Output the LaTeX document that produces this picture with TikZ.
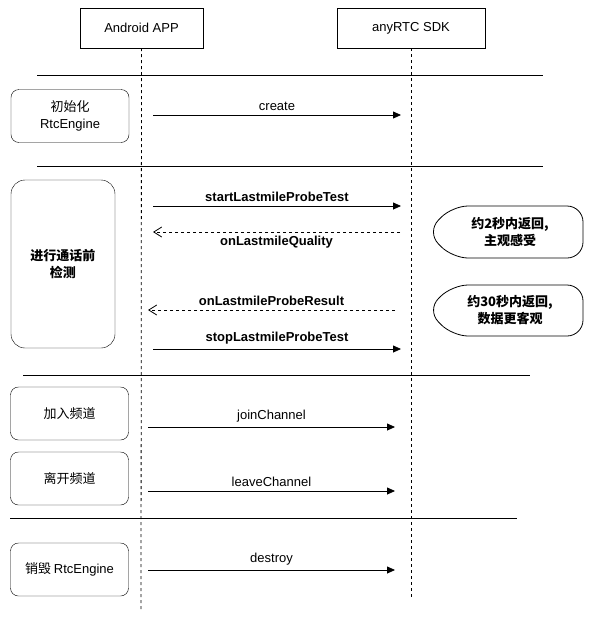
\documentclass[tikz,border=0pt]{standalone}
\usepackage{fontspec}
\setmainfont{Liberation Sans}
\newfontfamily\cjk{Noto Sans CJK SC}
\usetikzlibrary{arrows.meta}
\begin{document}
\begin{tikzpicture}[x=1pt,y=-1pt,
  every node/.style={font=\fontsize{13}{16}\selectfont},
  hdr/.style={draw,minimum width=123pt,minimum height=40pt,inner sep=0pt},
  blk/.style={draw,rounded corners=8pt,minimum width=118pt,minimum height=53pt,align=center,inner sep=0pt,font=\cjk\fontsize{13}{17}\selectfont},
  life/.style={dashed,line width=0.8pt},
  sep/.style={line width=0.8pt},
  call/.style={-{Triangle[length=8pt,width=7pt]},line width=0.8pt},
  ret/.style={-{Straight Barb[length=8pt,width=10pt]},dashed,line width=0.8pt},
  lab/.style={inner sep=1pt},
  blab/.style={inner sep=1pt,font=\bfseries\fontsize{13}{16}\selectfont},
  bubble/.style={draw,line width=0.8pt,rounded corners=16pt}]
\useasboundingbox (0,0) rectangle (600,627);
\node[hdr] (app) at (141.5,28) {Android APP};
\node[hdr,minimum width=148pt] (sdk) at (411,28) {anyRTC SDK};
\coordinate (append) at (141,612);
\coordinate (sdkend) at (411,598);
\draw[life] (app.south) -- (append);
\draw[life] (sdk.south) -- (sdkend);
\coordinate (s1a) at (37,75); \coordinate (s1b) at (543,75);
\coordinate (s2a) at (37,166); \coordinate (s2b) at (543,166);
\coordinate (s3a) at (23,375); \coordinate (s3b) at (530,375);
\coordinate (s4a) at (10,518); \coordinate (s4b) at (517,518);
\draw[sep] (s1a)--(s1b); \draw[sep] (s2a)--(s2b); \draw[sep] (s3a)--(s3b); \draw[sep] (s4a)--(s4b);
\node[blk] (init) at (70,116) {初始化\\{\fontspec{Liberation Sans}RtcEngine}};
\node[blk,minimum width=104pt,minimum height=168pt,rounded corners=14pt,font=\cjk\bfseries\fontsize{13}{17}\selectfont] (test) at (63,264) {进行通话前\\检测};
\node[blk] (join) at (69.5,413.5) {加入频道};
\node[blk] (leave) at (69.5,478.5) {离开频道};
\node[blk] (dest) at (69.5,569.5) {销毁 {\fontspec{Liberation Sans}RtcEngine}};
\coordinate (a1) at (153,115); \coordinate (b1) at (401,115);
\draw[call] (a1) -- node[lab,above=3pt] {create} (b1);
\coordinate (a2) at (153,206); \coordinate (b2) at (401,206);
\draw[call] (a2) -- node[blab,above=3pt] {startLastmileProbeTest} (b2);
\coordinate (a3) at (400,232); \coordinate (b3) at (153,232);
\draw[ret] (a3) -- node[blab,below=3pt] {onLastmileQuality} (b3);
\coordinate (a4) at (395,310); \coordinate (b4) at (148,310);
\draw[ret] (a4) -- node[blab,above=3pt] {onLastmileProbeResult} (b4);
\coordinate (a5) at (153,349); \coordinate (b5) at (401,349);
\draw[call] (a5) -- node[blab,above=3pt] {stopLastmileProbeTest} (b5);
\coordinate (a6) at (148,427); \coordinate (b6) at (395,427);
\draw[call] (a6) -- node[lab,above=3pt] {joinChannel} (b6);
\coordinate (a7) at (148,491); \coordinate (b7) at (395,491);
\draw[call] (a7) -- node[lab,above=3pt] {leaveChannel} (b7);
\coordinate (a8) at (148,570); \coordinate (b8) at (395,570);
\draw[call] (a8) -- node[lab,above=3pt] {destroy} (b8);
\draw[bubble] (427,232) -- (452,206) -- (583,206) -- (583,258) -- (452,258) -- cycle;
\node[font=\cjk\bfseries\fontsize{13}{17}\selectfont,align=center] (q1) at (510,232) {约2秒内返回,\\主观感受};
\draw[bubble] (427,310) -- (452,285) -- (583,285) -- (583,336) -- (452,336) -- cycle;
\node[font=\cjk\bfseries\fontsize{13}{17}\selectfont,align=center] (q2) at (510,310) {约30秒内返回,\\数据更客观};
\end{tikzpicture}
\end{document}
